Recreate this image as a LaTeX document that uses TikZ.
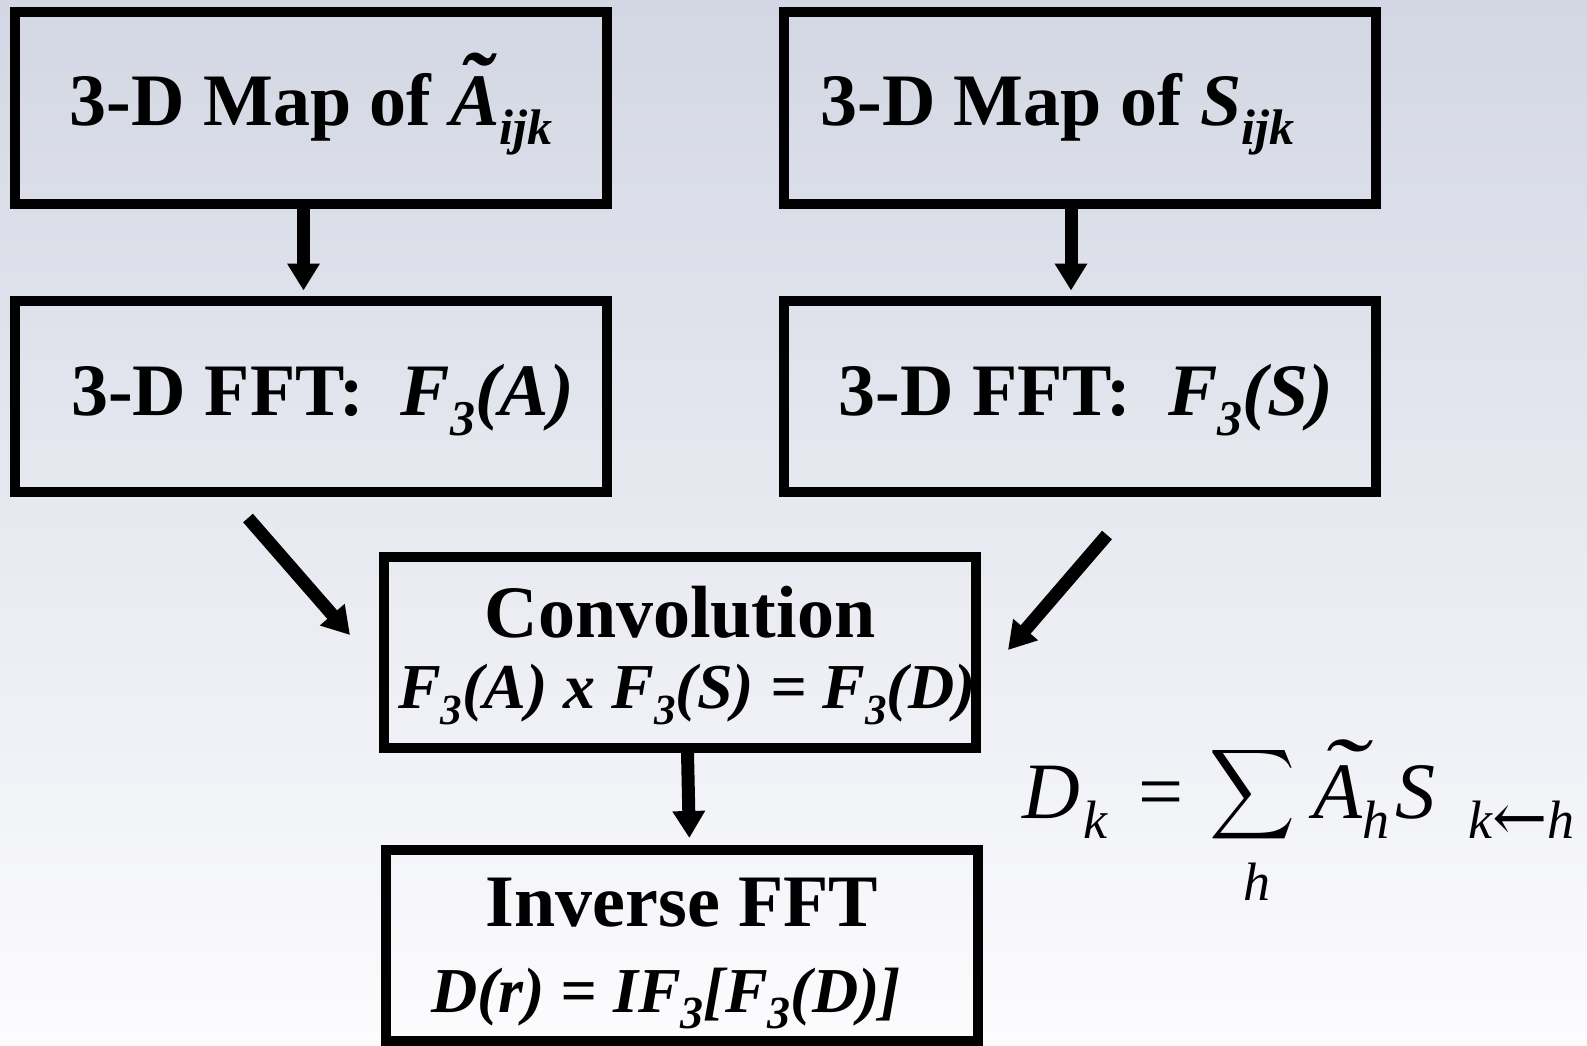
\documentclass[tikz,border=0pt]{standalone}
\usepackage{fontspec}
\setmainfont{Liberation Serif}
\newfontfamily\arrowfont{DejaVu Serif}
\usepackage{graphicx}
\usetikzlibrary{arrows.meta}
\definecolor{bgtop}{RGB}{211,215,227}
\definecolor{bgbot}{RGB}{252,252,254}
\newcommand{\dn}[3]{\raisebox{-#1}{\fontsize{#2}{#2}\selectfont #3}}
\newcommand{\twolines}[3]{\vbox{\baselineskip=#1\lineskiplimit=-1000pt\lineskip=0pt
  \hbox to 0pt{\hss #2\hss}\hbox to 0pt{\hss #3\hss}}}
\newcommand{\tildeA}[4]{\makebox[0pt][l]{\kern#2\raisebox{#1}{\scalebox{#3}[#4]{˜}}}A}
\begin{document}
\begin{tikzpicture}[x=1pt,y=-1pt,
  box/.style={draw=black, line width=10pt, minimum width=592pt, minimum height=191pt, inner sep=0pt},
  big/.style={font=\fontsize{74}{74}\selectfont\bfseries},
  arr/.style={line width=13pt, -{Triangle[width=31pt,length=27pt]}},
  fml/.style={anchor=base west, inner sep=0pt, font=\fontsize{80}{80}\selectfont\itshape},
]
\shade[top color=bgtop,bottom color=bgbot] (0,0) rectangle (1587,1046);
\useasboundingbox (0,0) rectangle (1587,1046);

\node[box, big, text height=36pt, text depth=0pt] (mapA) at (311,108)
  {3-D Map of \textit{\tildeA{12pt}{8pt}{1.3}{1.2}}\dn{19pt}{50}{\itshape ijk}};
\node[box, big, text height=36pt, text depth=0pt] (mapS) at (1079.5,108)
  {3-D Map of \textit{S}\dn{19pt}{50}{\itshape ijk}\kern44pt};
\node[box, big, text height=38pt, text depth=0pt] (fftA) at (311,396)
  {\kern23pt 3-D FFT:\ \ \textit{F}\dn{20pt}{50}{\itshape 3}\textit{(A)}};
\node[box, big, text height=38pt, text depth=0pt] (fftS) at (1079.5,396)
  {\kern13pt 3-D FFT:\ \ \textit{F}\dn{20pt}{50}{\itshape 3}\textit{(S)}};
\node[box, text height=112pt, text depth=0pt] (conv) at (680,652)
  {\twolines{71pt}{\fontsize{74}{74}\selectfont\bfseries Convolution}
   {\fontsize{64}{64}\selectfont\bfseries\itshape\kern14pt F\dn{16pt}{43}{3}(A) x F\dn{16pt}{43}{3}(S) = F\dn{16pt}{43}{3}(D)}};
\node[box, text height=133pt, text depth=0pt] (ifft) at (682,945.5)
  {\twolines{86pt}{\fontsize{74}{74}\selectfont\bfseries Inverse FFT}
   {\fontsize{64}{64}\selectfont\bfseries\itshape D(r) = IF\dn{16pt}{46}{3}[F\dn{16pt}{46}{3}(D)]\kern32pt}};

\draw[arr,shorten >=5pt] ([xshift=-7.5pt]mapA.south) -- ([xshift=-7.5pt]fftA.north);
\draw[arr,shorten >=5pt] ([xshift=-8.5pt]mapS.south) -- ([xshift=-8.5pt]fftS.north);
\draw[arr,shorten >=7pt] ([xshift=7.5pt]conv.south) -- ([xshift=7.5pt]ifft.north);

\coordinate (la) at (248,518);
\coordinate (lb) at (350,635);
\coordinate (ra) at (1107,535);
\coordinate (rb) at (1008,650);
\draw[arr] (la) -- (lb);
\draw[arr] (ra) -- (rb);

\node[fml] (dk) at (1022,818) {D\kern4pt\dn{20pt}{54}{k}};
\node[fml, font=\fontsize{80}{80}\selectfont] (eq) at (1138,818) {=};
\node[anchor=north west, inner sep=0pt] (sum) at (1209,744) {\resizebox*{86pt}{101pt}{$\displaystyle\sum$}};
\node[fml, font=\fontsize{54}{54}\selectfont\itshape] (sumh) at (1243,900) {h};
\node[fml] (ah) at (1313,818) {\tildeA{14pt}{6pt}{1.7}{1.2}\dn{20pt}{54}{h}};
\node[fml] (sk) at (1395,818) {S\kern33pt\dn{20pt}{54}{k\raisebox{-2pt}{\upshape\arrowfont\fontsize{66}{66}\selectfont ←}h}};
\end{tikzpicture}
\end{document}
